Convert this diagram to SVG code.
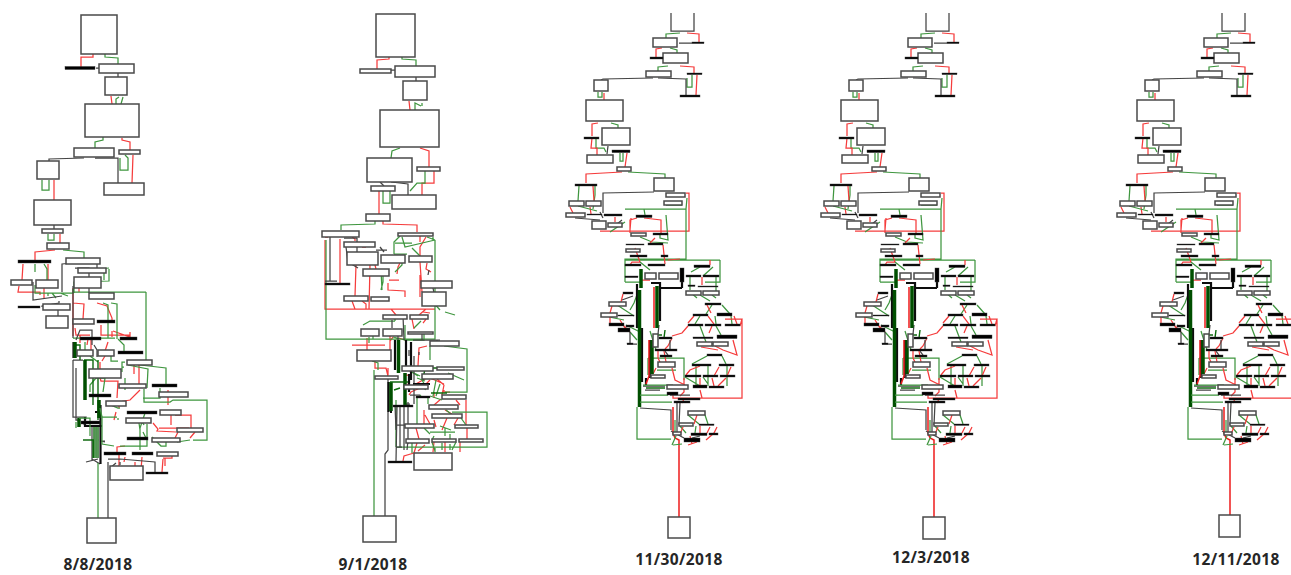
<svg xmlns="http://www.w3.org/2000/svg" xmlns:xlink="http://www.w3.org/1999/xlink" width="1291" height="575" viewBox="0 0 1291 575">
<style>
.n{fill:#fff;stroke:#4a4a4a;stroke-width:1.5}
.b{fill:#000;stroke:#333;stroke-width:.4}
.g,.r,.k,.dg,.tk,.tg,.tr{fill:none;stroke-linejoin:miter}
.g{stroke:#3f963f;stroke-width:1.25}
.r{stroke:#f53c3c;stroke-width:1.25}
.k{stroke:#444;stroke-width:1.25}
.dg{stroke:#0a6a0a;stroke-width:1.4}
.tk{stroke:#111;stroke-width:2.2}
.tg{stroke:#064f06;stroke-width:3.5}
.tr{stroke:#ee1c1c;stroke-width:1.5}
.t{font-family:"Noto Sans","Open Sans",sans-serif;font-weight:700;font-size:15.5px;letter-spacing:.35px;fill:#262626;text-anchor:middle}
</style>
<defs>
<filter id="s" x="-2%" y="-2%" width="104%" height="104%"><feGaussianBlur stdDeviation="0.3"/></filter>
<g id="p3">
<g id="p3-links">
<path class="k" d="M671 13V31H694V13"/>
<path class="g" d="M680 33L666 34V38M670 48L677 50V53M668 66L658 67V71M692 75V87H687V78M598 92V97H602V92M611 123L618 125V128M596 139V148H604L606 152M620 153V161H623V153M628 172L665 174V178M579 186L578 201M595 186V195L593 209"/>
<path class="r" d="M687 33L699 34V42M662 48L656 49V57M680 66L694 67V73M697 75L696 95M604 93V100M598 123L592 124V136M592 138L591 148H597V155M627 153L625 167M622 172L586 174V183M593 186L594 201"/>
<path class="k" d="M679 43H692M653 78L603 79L601 80M658 78L686 79V95M608 146L607 154M654 192L603 193V213M575 218L600 220M622 220L617 224M600 212L603 218"/>
<path class="r" d="M686 193H689V231H600M637 218L630 220V233M644 218L661 220V233M631 218L630 230M570 207L573 213M590 207L591 214M615 217V222"/>
<path class="g" d="M625 209H686V259H625V282M687 198L686 209M720 260V282H705M625 260H720M666 205H682M644 209L645 215M666 215L668 240L660 238V233M640 237L652 242L668 243M625 282H640"/>
<path class="r" d="M668 260L680 259M635 248L640 262L632 262L630 265M655 238L650 243M663 245L665 264M640 280H650M702 277V285M710 260V265"/>
<path class="g" d="M578 206L597 211M625 222L610 232M690 277V290M716 277V291M713 267L703 276M700 267L691 272M640 262L650 270"/>
<path class="g" d="M614 303L634 316M638 292L634 303L630 310M609 317L624 320M626 325L640 332M630 332L637 340M650 331L656 350M648 358H684V380M648 358V375M657 370H676M690 292L697 298M700 295L710 301M712 295L716 298M712 305L706 314M722 305L730 314M700 316L695 324M715 316L716 324M731 316L732 324M700 326L706 342M716 326L721 335M707 356L692 364M722 356L726 364M696 366V385M708 366V386M727 366V386M685 377L700 386M703 377L708 384M688 415L699 424M705 415L708 424M675 420V432M680 426L686 433M696 426L695 433"/>
<path class="r" d="M623 294L621 302M612 306L610 313M610 317L610 323M620 320L625 328M624 326L630 332M740 326L742 319H725M742 319V398H673V392M733 340L737 355L723 350L715 346M701 347L718 350M688 326L682 333L672 336M712 326L709 333M694 316L688 323M708 316L714 324M734 316L737 324M707 305L711 313M672 338L668 346L665 349M658 351V358L660 362M664 351L666 362M656 368L653 374M672 368L675 380L685 385M700 366L690 370L686 375M719 367L714 376M731 367L727 376M700 378V385M712 378L714 386M726 378L718 386M684 378V392L680 396M700 390L702 398M684 399L682 403M697 415L694 424M700 426L700 433M683 427L680 434M710 427L707 433M717 427L714 433L706 440M690 436L692 444M697 442L688 445"/>
<path class="k" d="M633 296L622 300M637 344H627M630 344V332M670 340V349M658 334L659 325M665 351L668 355M680 403L679 425M640 408L671 410V430M671 431L684 438M700 436L692 438M670 395H690M643 386L665 386M645 390H660M677 403V432"/>
<path class="tk" d="M637 284V328M682 268V288M651 283H660V321M659 288H682M650 340V378M646 378V385M642 328V382"/>
<path class="tg" d="M641 269V288M639.500 290V407M657 286V328M652 340V374"/>
<path class="tr" d="M654 287V328M649 340V376L646 384M673 407V433L675 438L679 440V445"/>
<path class="g" d="M637 407V439H671M643 385H673M640 395H668M640 402H672"/>
<path class="dg" d="M665 330L664 338M654 335H662M646 388L665 388"/>
<path class="g" d="M673 445L682 444M676 436L672 445"/>
</g>
<g id="p3-n01"><rect class="n" x="653" y="38" width="24" height="9"/></g>
<g id="p3-n02"><rect class="n" x="663" y="53" width="25" height="10"/></g>
<g id="p3-n03"><rect class="b" x="692" y="42" width="12" height="1.6"/></g>
<g id="p3-n04"><rect class="b" x="650" y="57" width="13" height="2"/></g>
<g id="p3-n05"><rect class="n" x="646" y="71" width="25" height="6"/></g>
<g id="p3-n06"><rect class="b" x="687" y="73" width="15" height="1.6"/></g>
<g id="p3-n07"><rect class="b" x="680" y="95" width="20" height="2"/></g>
<g id="p3-n08"><rect class="n" x="594" y="80" width="14" height="11"/></g>
<g id="p3-n09"><rect class="n" x="586" y="100" width="37" height="21"/></g>
<g id="p3-n10"><rect class="b" x="584" y="137" width="15" height="2"/></g>
<g id="p3-n11"><rect class="n" x="602" y="128" width="28" height="17"/></g>
<g id="p3-n12"><rect class="b" x="612" y="150" width="18" height="2.6"/></g>
<g id="p3-n13"><rect class="n" x="587" y="155" width="26" height="8"/></g>
<g id="p3-n14"><rect class="n" x="617" y="167" width="14" height="4"/></g>
<g id="p3-n15"><rect class="b" x="575" y="184" width="22" height="2"/></g>
<g id="p3-n16"><rect class="n" x="654" y="178" width="20" height="13"/></g>
<g id="p3-n17"><rect class="n" x="666" y="193" width="19" height="4"/></g>
<g id="p3-n18"><rect class="n" x="664" y="201" width="18" height="4"/></g>
<g id="p3-n19"><rect class="n" x="569" y="201" width="15" height="5"/></g>
<g id="p3-n20"><rect class="n" x="586" y="201" width="15" height="5"/></g>
<g id="p3-n21"><rect class="n" x="566" y="213" width="19" height="4"/></g>
<g id="p3-n22"><rect class="b" x="587" y="214" width="15" height="1"/></g>
<g id="p3-n23"><rect class="b" x="604" y="214" width="18" height="2"/></g>
<g id="p3-n24"><rect class="n" x="592" y="221" width="14" height="8"/></g>
<g id="p3-n25"><rect class="n" x="608" y="223" width="14" height="4"/></g>
<g id="p3-n26"><rect class="b" x="636" y="215" width="16" height="2.5"/></g>
<g id="p3-n27"><rect class="n" x="631" y="233" width="15" height="3"/></g>
<g id="p3-n28"><rect class="b" x="653" y="233" width="15" height="2"/></g>
<g id="p3-n29"><rect class="b" x="648" y="243" width="15" height="2"/></g>
<g id="p3-n30"><rect class="b" x="626" y="244" width="18" height="1"/></g>
<g id="p3-n31"><rect class="n" x="626" y="249" width="14" height="3"/></g>
<g id="p3-n32"><rect class="b" x="630" y="255" width="17" height="2"/></g>
<g id="p3-n33"><rect class="b" x="661" y="255" width="7" height="2"/></g>
<g id="p3-n34"><rect class="b" x="625" y="264" width="16" height="2"/></g>
<g id="p3-n35"><rect class="b" x="648" y="264" width="17" height="2"/></g>
<g id="p3-n36"><rect class="b" x="694" y="265" width="16" height="2.5"/></g>
<g id="p3-n37"><rect class="b" x="625" y="276" width="13" height="1.6"/></g>
<g id="p3-n38"><rect class="n" x="645" y="273" width="11" height="6"/></g>
<g id="p3-n39"><rect class="n" x="659" y="273" width="19" height="6"/></g>
<g id="p3-n40"><rect class="b" x="680" y="268" width="4" height="14"/></g>
<g id="p3-n41"><rect class="b" x="686" y="275" width="15" height="2"/></g>
<g id="p3-n42"><rect class="b" x="703" y="275" width="16" height="2"/></g>
<g id="p3-n43"><rect class="n" x="686" y="291" width="15" height="4"/></g>
<g id="p3-n44"><rect class="n" x="703" y="291" width="16" height="4"/></g>
<g id="p3-n45"><rect class="b" x="688" y="285" width="7" height="1.4"/></g>
<g id="p3-n46"><rect class="b" x="698" y="286" width="20" height="1"/></g>
<g id="p3-n47"><rect class="b" x="705" y="303" width="16" height="2"/></g>
<g id="p3-n48"><rect class="b" x="717" y="313" width="15" height="3"/></g>
<g id="p3-n49"><rect class="b" x="693" y="314" width="15" height="2"/></g>
<g id="p3-n50"><rect class="b" x="688" y="324" width="15" height="2"/></g>
<g id="p3-n51"><rect class="b" x="705" y="324" width="16" height="2"/></g>
<g id="p3-n52"><rect class="b" x="725" y="324" width="15" height="2"/></g>
<g id="p3-n53"><rect class="b" x="693" y="337" width="20" height="1.6"/></g>
<g id="p3-n54"><rect class="b" x="717" y="335" width="20" height="3.5"/></g>
<g id="p3-n55"><rect class="n" x="697" y="342" width="15" height="4"/></g>
<g id="p3-n56"><rect class="n" x="713" y="342" width="15" height="4"/></g>
<g id="p3-n57"><rect class="b" x="707" y="354" width="15" height="2"/></g>
<g id="p3-n58"><rect class="b" x="692" y="364" width="19" height="2"/></g>
<g id="p3-n59"><rect class="b" x="719" y="364" width="15" height="2"/></g>
<g id="p3-n60"><rect class="b" x="685" y="375" width="16" height="2"/></g>
<g id="p3-n61"><rect class="b" x="703" y="375" width="15" height="2"/></g>
<g id="p3-n62"><rect class="b" x="720" y="375" width="15" height="2"/></g>
<g id="p3-n63"><rect class="b" x="623" y="292" width="10" height="2"/></g>
<g id="p3-n64"><rect class="n" x="609" y="302" width="17" height="4"/></g>
<g id="p3-n65"><rect class="n" x="601" y="313" width="16" height="4"/></g>
<g id="p3-n66"><rect class="b" x="618" y="315" width="16" height="1"/></g>
<g id="p3-n67"><rect class="b" x="609" y="323" width="15" height="3"/></g>
<g id="p3-n68"><rect class="b" x="626" y="325" width="8" height="2"/></g>
<g id="p3-n69"><rect class="b" x="618" y="328" width="12" height="4"/></g>
<g id="p3-n70"><rect class="b" x="627" y="343" width="6" height="1.4"/></g>
<g id="p3-n71"><rect class="n" x="653" y="334" width="5" height="13"/></g>
<g id="p3-n72"><rect class="b" x="659" y="337" width="13" height="2"/></g>
<g id="p3-n73"><rect class="b" x="655" y="349" width="22" height="2"/></g>
<g id="p3-n74"><rect class="b" x="660" y="355" width="12" height="2"/></g>
<g id="p3-n75"><rect class="n" x="658" y="362" width="17" height="5"/></g>
<g id="p3-n76"><rect class="n" x="651" y="375" width="14" height="3"/></g>
<g id="p3-n77"><rect class="n" x="667" y="385" width="21" height="4"/></g>
<g id="p3-n78"><rect class="b" x="667" y="392" width="11" height="3"/></g>
<g id="p3-n79"><rect class="b" x="693" y="385" width="14" height="3"/></g>
<g id="p3-n80"><rect class="b" x="709" y="386" width="15" height="2"/></g>
<g id="p3-n81"><rect class="b" x="678" y="398" width="22" height="2"/></g>
<g id="p3-n82"><rect class="b" x="674" y="401" width="16" height="2"/></g>
<g id="p3-n83"><rect class="n" x="688" y="411" width="17" height="4"/></g>
<g id="p3-n84"><rect class="n" x="679" y="423" width="14" height="3"/></g>
<g id="p3-n85"><rect class="b" x="699" y="424" width="15" height="1.4"/></g>
<g id="p3-n86"><rect class="b" x="691" y="433" width="16" height="2.5"/></g>
<g id="p3-n87"><rect class="b" x="709" y="433" width="9" height="2"/></g>
<g id="p3-n88"><rect class="b" x="684" y="438" width="16" height="4"/></g>
<g id="p3-n89"><rect class="n" x="673" y="432" width="8" height="3"/></g>
</g>
</defs>
<g filter="url(#s)">
<g id="connectors">
<g id="panel1-links">
<path class="r" d="M93 54V57H81V67M111 96L112 104M122 138V140L130 142V150M133 155L132 183M54 180V200M60 234V243M55 250L35 252V261M23 264L22 280M48 264V280M19 286L18 292H40V295M44 288V298M73 288V336M79 280V292M73 303L84 304L83 319M97 303L107 306L112 318V322M75 328L76 335H90M101 325V335H129L128 337M112 331V337M91 339V350M80 335V343M105 356L102 361M96 370V378M113 331L130 337V332M88 339L87 345M108 342L105 351M100 362V369M100 378L101 381H118L117 398M134 365V374M139 365V384M168 390V405M140 390L130 400L119 402V408M116 412L114 420M171 415L171 425M175 415H191V428M159 428H189M178 432L175 438M195 432L190 438M153 423L158 429L157 431L176 432M125 446L117 447V453M119 455V470M125 457L124 462M142 457L141 470M165 458V466M135 462V470M163 458H172V452M163 459L162 472"/>
<path class="g" d="M105 54V57L118 58V64M116 104V99L119 97M121 104L123 97M103 137V140L95 142V148M120 158V170H128V158L125 155M42 180V190H49V180M48 234V240H54V234M63 250L84 252V258M35 264V272M44 264L47 269V280M35 285V293H73V289M48 296V293M52 293L56 298M60 293L68 296M74 293V282L109 281V269M109 268L100 269M104 269V280M146 292H74M146 292V362H130M103 303L108 305V338M111 303L117 304V339M73 338H115M118 339L124 345V353M85 342V350M90 356L98 362M111 356V361H118M125 362H122V372M128 365L148 369L147 388M140 365L166 368L166 385M124 367H122M125 378V390M96 378L90 385V392M96 378L105 378L103 392M160 388V395M143 398L160 398V397M145 413L140 428V450M147 424V446H120M139 423L140 430M142 421L144 425M143 432L146 438M152 437L161 446H166V442M174 441L176 440M177 442L190 440M193 440L207 440V400H173L170 402H144V389M108 404L118 408L120 408M118 418V420"/>
<path class="k" d="M96 68H99M118 73V77M84 158L49 159V161M95 158H118V183M54 225V229M33 282L33 300L62 296M59 301V303L42 306V307M58 310V316M85 262L62 264V292M97 264L97 273M75 268L89 268V293M73 286V338M76 340L80 330H92V345M83 360H73M73 360V417H86L84 425M94 345L97 350V357M76 368V420H78M105 441H100L105 442M100 464L92 459M86 462L98 459M108 459H120M120 459L155 462V472M116 463L110 468M120 462V465M108 462V518M92 427V460"/>
<path class="dg" d="M76 345H80V360M84 360H93L93 405M83 440H93V458M94 427V458M96 427V458M98 427V458M98 360L98 420"/>
<path class="tk" d="M73.500 342V358M100.500 405V464M85 417V426H102M95 412H100"/>
<path class="tg" d="M75 342V358M85 360V400M99 400V418M79 418V427"/>
<path class="g" d="M98 463V518M100 408L102 417H117M102 416V444L114 446M79 418H90V436M76 428V422"/>
</g>
<g id="panel2-links">
<path class="r" d="M389 57V59L377 60V70M409 101L410 110M420 148L429 151V167M434 171V183H422V195M379 191V214M383 221V224L417 225V232M325 240V309H435M328 237H325M340 239V285M352 237L355 239V241M362 247H366M426 237L420 247V256M420 236V242M420 262L422 292M356 265L355 296M352 301L355 309M362 301L366 304V309M370 265L369 309M375 265L376 269M400 263L398 267L397 274M399 280H392L389 280M388 283V290L405 291V297M420 275V297M427 263L426 269L431 272M423 312L430 313M391 309L396 315M426 309L419 315M426 319L423 323M412 319L414 329M393 337L390 341M390 336V350M399 338L405 340M367 338V350M375 361V368L386 368L388 376M385 345H352M427 346L419 348L418 366M388 368V375M405 375H410L408 385M413 385H420M432 375L414 385M430 378L444 384M420 388L411 392L409 395M437 379L444 385M444 385L442 395M444 390V392H450M445 410L452 414M456 400L460 405M466 400L466 425M424 410V425M425 415L430 424M447 418L442 430M458 418L454 425M467 428L467 439M416 428L419 439M434 420L436 427M417 443L414 453M414 453L404 456L403 461M425 445L418 451M434 442L433 452M445 442V452M460 442V452M430 380L424 386M434 392V398M441 399L434 405"/>
<path class="g" d="M402 57V59L416 60V66M415 110V103L421 106M422 106L422 103M400 148L392 151L391 158M425 171V183H417L410 191M383 191V203H390V191M375 221V224L341 225V230M326 240V339H435V240M400 236L394 242L394 254M394 254H407M402 237L405 247L435 240M427 237L435 240H433M395 243H412M412 248L420 256M402 263V265L395 272M381 270L382 290M383 270L383 282L381 290M433 237V240M373 339L373 336M369 337V343M363 325L370 321H395M395 315V321M421 321L414 328M393 337L405 340V325M372 361L378 363V370M374 370V516M405 336V340H424V332M427 293L430 295M432 301L440 310M445 312L455 315M430 346L430 360M444 346L467 349V392H445M448 373L464 380M410 371L418 376M417 378L425 381M412 372L420 376M422 380L426 387L425 390M436 380L433 396M440 384L436 396M446 410L451 414M421 395L417 398V424M428 398V404M430 396L442 400M452 412L487 412V447H396M461 418L466 425M424 428L430 434M430 432H445M445 432L455 432M434 436L432 440M450 442V434M445 436V428M440 426L451 430M396 400V447M397 447H418M412 443L412 453M432 442L435 451M442 443V450M435 452V448M450 444V450M456 442L452 450"/>
<path class="k" d="M391 70H395M416 77V81M380 182L384 186M391 182L408 184V195M357 238V260H370M357 238H344M380 247L384 252M376 250H387M330 237V281M337 281H325M346 247L348 262M358 268L348 262M429 270L428 275M433 288L434 293M403 316L404 340M392 320V328M422 334V340H440M393 330L398 333V345M413 340H437V345M419 352V355M414 356V404M409 350L409 356M410 395H420M408 402L408 444M410 404H406M404 405L404 450M400 405V447M395 405L396 430M396 425H410M396 447H402M407 450L408 440M388 378V450L385 454V516M396 461L397 407"/>
<path class="tk" d="M388.500 382V412M390 412H392M406 340V366M411 342V380M395 340V370M413 384L430 384M443 378L453 375M431 378L439 378M409 374V392"/>
<path class="tg" d="M398.500 340V373M405 373V405M391 382V411"/>
<path class="dg" d="M390 382H408M394 390L400 388M423 380L425 368H440M431 393H447"/>
</g>
<g id="panel3-bottom">
<path class="tr" d="M679 445V517"/>
<path class="tr" d="M934 445V517"/>
<path class="tr" d="M1230 445V515"/>
</g>
</g>
<g id="panel1">
<g id="p1-n01"><rect class="n" x="81" y="15" width="36" height="39"/></g>
<g id="p1-n02"><rect class="b" x="65" y="66.500" width="30" height="3"/></g>
<g id="p1-n03"><rect class="n" x="99" y="64" width="35" height="9"/></g>
<g id="p1-n04"><rect class="n" x="105" y="77" width="22" height="18"/></g>
<g id="p1-n05"><rect class="n" x="85" y="104" width="54" height="33"/></g>
<g id="p1-n06"><rect class="n" x="74" y="148" width="40" height="9"/></g>
<g id="p1-n07"><rect class="n" x="119" y="150" width="21" height="4"/></g>
<g id="p1-n08"><rect class="n" x="37" y="161" width="22" height="18"/></g>
<g id="p1-n09"><rect class="n" x="104" y="183" width="40" height="12"/></g>
<g id="p1-n10"><rect class="n" x="34" y="200" width="37" height="25"/></g>
<g id="p1-n11"><rect class="n" x="42" y="229" width="21" height="4"/></g>
<g id="p1-n12"><rect class="n" x="47" y="243" width="22" height="6"/></g>
<g id="p1-n13"><rect class="b" x="18" y="260" width="33" height="3"/></g>
<g id="p1-n14"><rect class="n" x="66" y="258" width="34" height="6"/></g>
<g id="p1-n15"><rect class="n" x="78" y="268" width="28" height="5"/></g>
<g id="p1-n16"><rect class="n" x="74" y="277" width="27" height="11"/></g>
<g id="p1-n17"><rect class="n" x="11" y="280" width="21" height="5"/></g>
<g id="p1-n18"><rect class="n" x="36" y="280" width="22" height="8"/></g>
<g id="p1-n19"><rect class="n" x="89" y="293" width="25" height="6"/></g>
<g id="p1-n20"><rect class="b" x="18" y="306" width="22" height="2"/></g>
<g id="p1-n21"><rect class="n" x="43" y="304" width="27" height="6"/></g>
<g id="p1-n22"><rect class="n" x="46" y="316" width="22" height="12"/></g>
<g id="p1-n23"><rect class="n" x="73" y="319" width="21" height="5"/></g>
<g id="p1-n24"><rect class="b" x="97" y="320" width="18" height="3"/></g>
<g id="p1-n25"><rect class="b" x="80" y="337" width="21" height="3"/></g>
<g id="p1-n26"><rect class="b" x="120" y="337" width="17" height="3"/></g>
<g id="p1-n27"><rect class="n" x="77" y="350" width="16" height="6"/></g>
<g id="p1-n28"><rect class="n" x="98" y="350" width="16" height="6"/></g>
<g id="p1-n29"><rect class="b" x="118" y="351" width="25" height="3"/></g>
<g id="p1-n30"><rect class="n" x="127" y="360" width="25" height="5"/></g>
<g id="p1-n31"><rect class="n" x="89" y="369" width="32" height="9"/></g>
<g id="p1-n32"><rect class="n" x="119" y="384" width="27" height="4"/></g>
<g id="p1-n33"><rect class="b" x="152" y="384" width="25" height="3"/></g>
<g id="p1-n34"><rect class="n" x="159" y="392" width="29" height="5"/></g>
<g id="p1-n35"><rect class="b" x="89" y="394" width="22" height="3"/></g>
<g id="p1-n36"><rect class="n" x="106" y="401" width="20" height="5"/></g>
<g id="p1-n37"><rect class="b" x="127" y="411" width="30" height="3"/></g>
<g id="p1-n38"><rect class="n" x="160" y="410" width="21" height="5"/></g>
<g id="p1-n39"><rect class="n" x="126" y="418" width="25" height="5"/></g>
<g id="p1-n40"><rect class="n" x="177" y="428" width="26" height="4"/></g>
<g id="p1-n41"><rect class="b" x="81" y="421" width="19" height="3"/></g>
<g id="p1-n42"><rect class="b" x="127" y="437" width="21" height="3"/></g>
<g id="p1-n43"><rect class="n" x="152" y="438" width="28" height="4"/></g>
<g id="p1-n44"><rect class="b" x="104" y="452" width="22" height="3"/></g>
<g id="p1-n45"><rect class="b" x="132" y="452" width="21" height="3"/></g>
<g id="p1-n46"><rect class="n" x="157" y="452" width="21" height="4"/></g>
<g id="p1-n47"><rect class="n" x="110" y="466" width="33" height="14"/></g>
<g id="p1-n48"><rect class="b" x="146" y="472" width="22" height="2"/></g>
<g id="p1-n49"><rect class="n" x="87" y="518" width="29" height="25"/></g>
</g>
<g id="panel2">
<g id="p2-n01"><rect class="n" x="376" y="14" width="39" height="43"/></g>
<g id="p2-n02"><rect class="n" x="360" y="69" width="31" height="4"/></g>
<g id="p2-n03"><rect class="n" x="395" y="66" width="40" height="11"/></g>
<g id="p2-n04"><rect class="n" x="403" y="81" width="24" height="19"/></g>
<g id="p2-n05"><rect class="n" x="380" y="110" width="59" height="37"/></g>
<g id="p2-n06"><rect class="n" x="367" y="158" width="45" height="24"/></g>
<g id="p2-n07"><rect class="n" x="417" y="167" width="23" height="4"/></g>
<g id="p2-n08"><rect class="n" x="371" y="186" width="24" height="5"/></g>
<g id="p2-n09"><rect class="n" x="392" y="195" width="44" height="14"/></g>
<g id="p2-n10"><rect class="n" x="366" y="214" width="24" height="7"/></g>
<g id="p2-n11"><rect class="n" x="322" y="231" width="37" height="6"/></g>
<g id="p2-n12"><rect class="n" x="398" y="233" width="35" height="3"/></g>
<g id="p2-n13"><rect class="n" x="344" y="242" width="31" height="5"/></g>
<g id="p2-n14"><rect class="n" x="347" y="252" width="31" height="13"/></g>
<g id="p2-n15"><rect class="n" x="363" y="269" width="26" height="7"/></g>
<g id="p2-n16"><rect class="n" x="381" y="255" width="24" height="8"/></g>
<g id="p2-n17"><rect class="n" x="409" y="256" width="23" height="6"/></g>
<g id="p2-n18"><rect class="b" x="325" y="283" width="25" height="2"/></g>
<g id="p2-n19"><rect class="n" x="344" y="296" width="24" height="5"/></g>
<g id="p2-n20"><rect class="n" x="371" y="297" width="18" height="4"/></g>
<g id="p2-n21"><rect class="n" x="421" y="281" width="31" height="7"/></g>
<g id="p2-n22"><rect class="n" x="422" y="292" width="24" height="14"/></g>
<g id="p2-n23"><rect class="n" x="383" y="315" width="24" height="4"/></g>
<g id="p2-n24"><rect class="n" x="410" y="315" width="18" height="4"/></g>
<g id="p2-n25"><rect class="n" x="361" y="329" width="18" height="7"/></g>
<g id="p2-n26"><rect class="n" x="383" y="329" width="19" height="7"/></g>
<g id="p2-n27"><rect class="n" x="408" y="332" width="25" height="2"/></g>
<g id="p2-n28"><rect class="n" x="357" y="350" width="34" height="11"/></g>
<g id="p2-n29"><rect class="n" x="375" y="376" width="23" height="3"/></g>
<g id="p2-n30"><rect class="n" x="430" y="341" width="29" height="5"/></g>
<g id="p2-n31"><rect class="n" x="402" y="366" width="31" height="5"/></g>
<g id="p2-n32"><rect class="n" x="437" y="367" width="27" height="3"/></g>
<g id="p2-n33"><rect class="n" x="422" y="374" width="31" height="5"/></g>
<g id="p2-n34"><rect class="n" x="404" y="385" width="24" height="4"/></g>
<g id="p2-n35"><rect class="b" x="416" y="396" width="14" height="2"/></g>
<g id="p2-n36"><rect class="n" x="442" y="395" width="24" height="4"/></g>
<g id="p2-n37"><rect class="n" x="429" y="405" width="29" height="4"/></g>
<g id="p2-n38"><rect class="n" x="432" y="414" width="30" height="4"/></g>
<g id="p2-n39"><rect class="b" x="393" y="405" width="20" height="2"/></g>
<g id="p2-n40"><rect class="n" x="405" y="424" width="29" height="4"/></g>
<g id="p2-n41"><rect class="n" x="455" y="425" width="23" height="3"/></g>
<g id="p2-n42"><rect class="n" x="406" y="439" width="23" height="4"/></g>
<g id="p2-n43"><rect class="n" x="432" y="439" width="24" height="3"/></g>
<g id="p2-n44"><rect class="n" x="459" y="439" width="24" height="3"/></g>
<g id="p2-n45"><rect class="n" x="414" y="453" width="38" height="17"/></g>
<g id="p2-n46"><rect class="b" x="388" y="461" width="24" height="2"/></g>
<g id="p2-n47"><rect class="n" x="363" y="516" width="33" height="26"/></g>
</g>
<use id="panel3" xlink:href="#p3" href="#p3"/>
<use id="panel4" xlink:href="#p3" href="#p3" x="255"/>
<use id="panel5" xlink:href="#p3" href="#p3" x="551"/>
<g id="p3-box"><rect class="n" x="668" y="517" width="22" height="21"/></g>
<g id="p4-box"><rect class="n" x="923" y="517" width="22" height="22"/></g>
<g id="p5-box"><rect class="n" x="1219" y="515" width="21" height="22"/></g>
</g>
<g id="labels">
<text class="t" x="98" y="570">8/8/2018</text>
<text class="t" x="373" y="570">9/1/2018</text>
<text class="t" x="679" y="565">11/30/2018</text>
<text class="t" x="931" y="563">12/3/2018</text>
<text class="t" x="1236" y="565">12/11/2018</text>
</g>
</svg>
